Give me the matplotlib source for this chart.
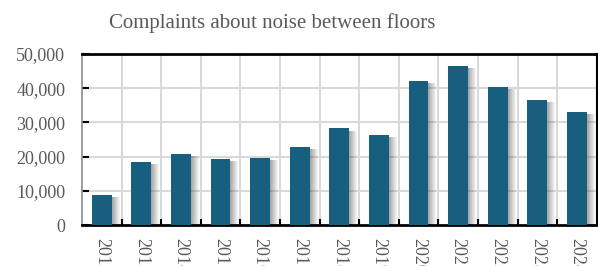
import matplotlib.pyplot as plt
from matplotlib.ticker import FuncFormatter, MultipleLocator

years = ['2012', '2013', '2014', '2015', '2016', '2017', '2018',
         '2019', '2020', '2021', '2022', '2023', '2024']
complaints = [8795, 18524, 20641, 19278, 19495, 22849, 28231,
              26257, 42250, 46596, 40393, 36435, 33027]

plt.rcParams['font.family'] = ['Liberation Serif', 'DejaVu Serif']
txt = '#595959'

fig = plt.figure(figsize=(5.98, 2.66), dpi=100)
ax = fig.add_axes([0.137, 0.154, 0.861, 0.643])

x = list(range(len(years)))
w = 0.5

# soft shadow on the right of each bar
steps = 8
sw = 0.025
for i in range(steps):
    a = 0.5 * (1 - i / steps)
    ax.bar([xi + w / 2 + i * sw for xi in x], [v - 600 for v in complaints],
           width=sw, align='edge', color='#505050', alpha=a, lw=0, zorder=2)

ax.bar(x, complaints, width=w, color='#175e7f', zorder=3)

ax.set_xlim(-0.5, len(years) - 0.5)
ax.set_ylim(0, 50000)
ax.yaxis.set_major_locator(MultipleLocator(10000))
ax.yaxis.set_major_formatter(FuncFormatter(lambda v, p: f'{int(v):,}'))

# gridlines
for b in range(1, len(years)):
    ax.axvline(b - 0.5, color='#d9d9d9', lw=1.5, zorder=1)
for yv in range(10000, 50000, 10000):
    ax.axhline(yv, color='#d9d9d9', lw=1.5, zorder=1)

ax.set_xticks(x)
ax.set_xticklabels(years, rotation=-90, va='top', ha='center',
                   color=txt, fontsize=13)
ax.tick_params(axis='x', length=0, pad=9)
ax.set_xticks([b - 0.5 for b in range(1, len(years))], minor=True)
ax.tick_params(axis='x', which='minor', direction='in', length=4,
               width=1.5, color='black')
ax.tick_params(axis='y', direction='in', length=5, width=1.5,
               color='black', labelsize=13, labelcolor=txt, pad=12)

ax.spines['top'].set_linewidth(2)
ax.spines['bottom'].set_linewidth(2)
ax.spines['right'].set_linewidth(1.5)
ax.spines['left'].set_color('#8c8c8c')
ax.spines['left'].set_linewidth(1.2)

fig.suptitle('Complaints about noise between floors', x=0.455, y=0.95,
             fontsize=15, color=txt)

fig.savefig('out.png', dpi=100)
